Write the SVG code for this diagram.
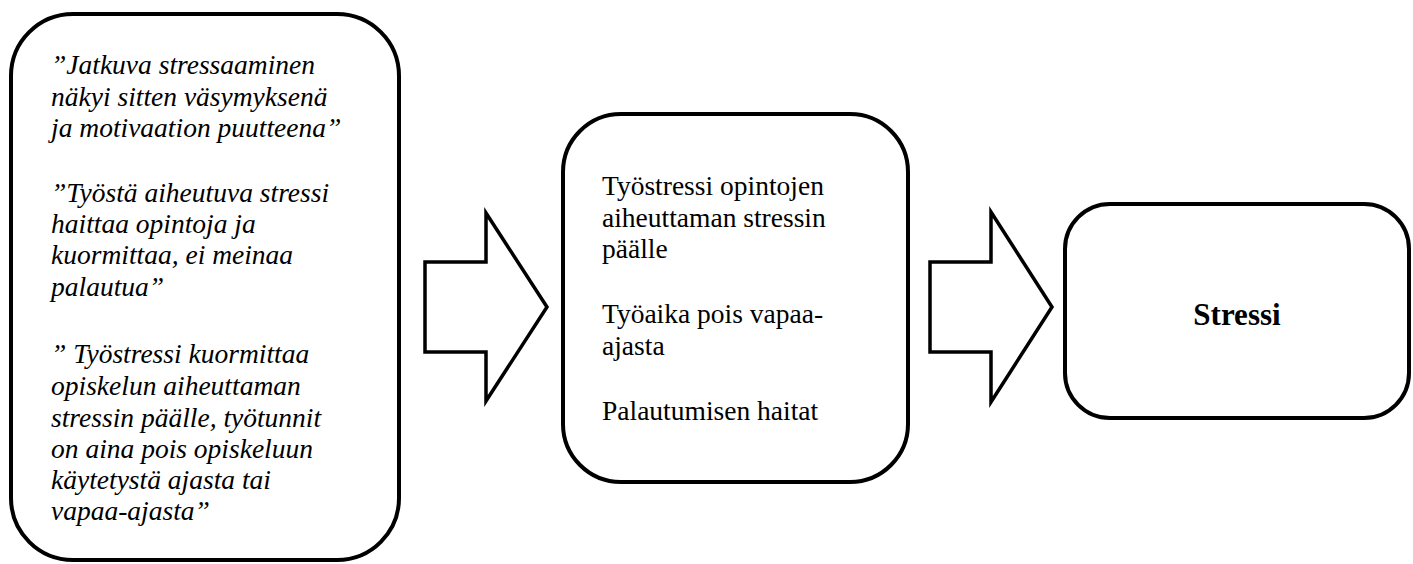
<svg xmlns="http://www.w3.org/2000/svg" width="1413" height="564" viewBox="0 0 1413 564">
<style>
.box{fill:#fff;stroke:#000;stroke-width:4}
.arr{fill:#fff;stroke:#000;stroke-width:3.5;stroke-linejoin:miter}
.it{font-style:italic;font-size:27.5px;fill:#000}
.rm{font-size:27.5px;fill:#000}
.bd{font-weight:bold;font-size:31px;fill:#000}
</style>
<rect width="1413" height="564" fill="#fff"/>
<g id="quotes">
<rect class="box" x="11" y="14" width="388" height="546" rx="62" ry="62"/>
<text class="it" font-family="'Liberation Serif', 'Times New Roman', Times, serif">
<tspan x="51" y="74">”Jatkuva stressaaminen</tspan>
<tspan x="51" y="106">näkyi sitten väsymyksenä</tspan>
<tspan x="51" y="137">ja motivaation puutteena”</tspan>
<tspan x="51" y="202">”Työstä aiheutuva stressi</tspan>
<tspan x="51" y="233">haittaa opintoja ja</tspan>
<tspan x="51" y="264">kuormittaa, ei meinaa</tspan>
<tspan x="51" y="296">palautua”</tspan>
<tspan x="51" y="363">” Työstressi kuormittaa</tspan>
<tspan x="51" y="395">opiskelun aiheuttaman</tspan>
<tspan x="51" y="427">stressin päälle, työtunnit</tspan>
<tspan x="51" y="458">on aina pois opiskeluun</tspan>
<tspan x="51" y="489">käytetystä ajasta tai</tspan>
<tspan x="51" y="520">vapaa-ajasta”</tspan>
</text>
</g>
<g id="connectors">
<polygon class="arr" points="425,262 486,262 486,213 547,307 486,401 486,352 425,352"/>
<polygon class="arr" points="930,262 991,262 991,212 1052,307 991,402 991,352 930,352"/>
</g>
<g id="effects">
<rect class="box" x="563" y="114" width="345" height="368" rx="58" ry="58"/>
<text class="rm" font-family="'Liberation Serif', 'Times New Roman', Times, serif">
<tspan x="602" y="195">Työstressi opintojen</tspan>
<tspan x="602" y="227">aiheuttaman stressin</tspan>
<tspan x="602" y="258">päälle</tspan>
<tspan x="602" y="323">Työaika pois vapaa-</tspan>
<tspan x="602" y="355">ajasta</tspan>
<tspan x="602" y="420">Palautumisen haitat</tspan>
</text>
</g>
<g id="stressi">
<rect class="box" x="1065" y="204" width="344" height="214" rx="45" ry="45"/>
<text class="bd" font-family="'Liberation Serif', 'Times New Roman', Times, serif" x="1237" y="325" text-anchor="middle">Stressi</text>
</g>
</svg>
